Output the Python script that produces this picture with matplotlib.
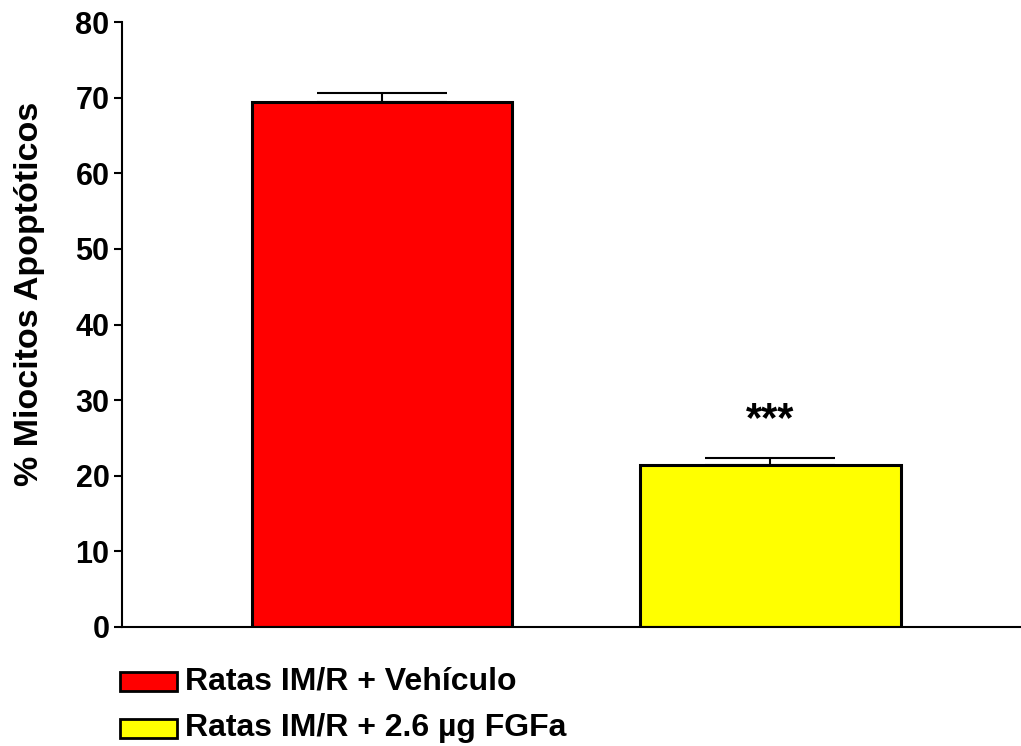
import matplotlib.pyplot as plt
import matplotlib.patches as mpatches

plt.rcParams['font.family'] = ['Liberation Sans', 'DejaVu Sans']
plt.rcParams['font.weight'] = 'bold'

grupos = ['Ratas IM/R + Vehículo', 'Ratas IM/R + 2.6 µg FGFa']
medias = [69.4, 21.4]
errores = [1.2, 0.9]
colores = ['#ff0000', '#ffff00']
significancia = ['', '***']

W, H = 1021, 746
fig = plt.figure(figsize=(W / 100, H / 100), dpi=100)
ax = fig.add_axes([122 / W, 1 - 627 / H, 899 / W, 605 / H])

x = [0, 1]
ax.bar(x, medias, width=0.67, color=colores, edgecolor='black', linewidth=2.2, zorder=2)
ax.errorbar(x, medias, yerr=[[0, 0], errores], fmt='none', ecolor='black',
            elinewidth=1.5, capsize=47, capthick=1.5, zorder=1)

for xi, m, e, s in zip(x, medias, errores, significancia):
    if s:
        ax.text(xi, m + e + 5.0, s, ha='center', va='center', fontsize=30, fontweight='bold')

ax.set_xlim(-0.669, 1.645)
ax.set_ylim(0, 80)
ax.set_yticks(range(0, 81, 10))
ax.tick_params(axis='y', labelsize=22, width=1.5, length=6, pad=3)
ax.set_xticks([])
ax.spines['top'].set_visible(False)
ax.spines['right'].set_visible(False)
ax.spines['left'].set_linewidth(1.5)
ax.spines['bottom'].set_linewidth(1.5)
ax.set_ylabel('% Miocitos Apoptóticos', fontsize=24.5, fontweight='bold')
ax.yaxis.set_label_coords(-0.086, 0.55)

# leyenda dibujada a mano bajo el eje
for i, (g, c) in enumerate(zip(grupos, colores)):
    yc = 681 + 47 * i
    fig.patches.append(mpatches.Rectangle((120 / W, 1 - (yc + 9.5) / H), 57 / W, 19 / H,
                                          transform=fig.transFigure, facecolor=c,
                                          edgecolor='black', linewidth=2))
    fig.text(185 / W, 1 - yc / H, g, ha='left', va='center', fontsize=23, fontweight='bold')

fig.savefig('out.png', dpi=100)
